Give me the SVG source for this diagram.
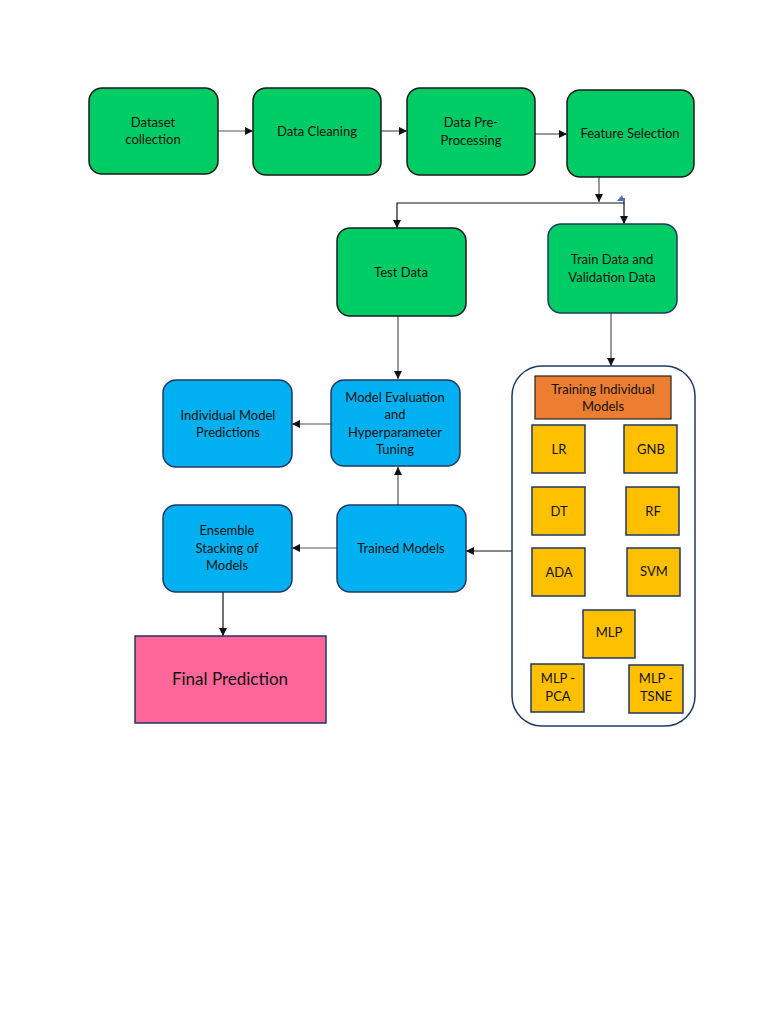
<svg xmlns="http://www.w3.org/2000/svg" width="768" height="1024" viewBox="0 0 768 1024">
<style>
.g{fill:#00CC66;stroke:#1a1a1a;stroke-width:1.5}
.b{fill:#00B0F0;stroke:#1F3864;stroke-width:1.5}
.y{fill:#FFC000;stroke:#1F3864;stroke-width:1.5}
.t{font-family:Lato,"Liberation Sans",sans-serif;font-size:13px;fill:#111;text-anchor:middle}
.c{fill:none;stroke:#555;stroke-width:1.2}
.k{fill:none;stroke:#111;stroke-width:1.2}
</style>
<defs>
<marker id="a" viewBox="0 0 10 10" refX="10" refY="5" markerWidth="8" markerHeight="8" markerUnits="userSpaceOnUse" orient="auto"><path d="M0,0L10,5L0,10z" fill="#111"/></marker>
</defs>
<rect width="768" height="1024" fill="#fff"/>
<g id="connectors">
<line class="c" x1="218" y1="131" x2="253" y2="131" marker-end="url(#a)"/>
<line class="c" x1="381" y1="131" x2="407" y2="131" marker-end="url(#a)"/>
<line class="c" x1="535" y1="134" x2="567" y2="134" marker-end="url(#a)"/>
<line class="c" x1="599" y1="177" x2="599" y2="202" marker-end="url(#a)"/>
<polyline class="k" points="624,198 624,203 397,203 397,228" marker-end="url(#a)"/>
<line class="k" x1="624" y1="203" x2="624" y2="224" marker-end="url(#a)"/>
<path d="M617,201 L622,195 L624,201 z" fill="#4472C4"/>
<line class="c" x1="398" y1="316" x2="398" y2="379" marker-end="url(#a)"/>
<line class="c" x1="611" y1="313" x2="611" y2="366" marker-end="url(#a)"/>
<line class="c" x1="331" y1="424" x2="292" y2="424" marker-end="url(#a)"/>
<line class="c" x1="398" y1="505" x2="398" y2="467" marker-end="url(#a)"/>
<line class="c" x1="337" y1="548" x2="292" y2="548" marker-end="url(#a)"/>
<line class="k" x1="512" y1="551" x2="466" y2="551" marker-end="url(#a)"/>
<line class="k" x1="223" y1="592" x2="223" y2="636" marker-end="url(#a)"/>
</g>
<g id="dataset"><rect class="g" x="89" y="88" width="129" height="86" rx="13"/><text class="t" x="153" y="127">Dataset</text><text class="t" x="153" y="144">collection</text></g>
<g id="cleaning"><rect class="g" x="253" y="88" width="128" height="87" rx="13"/><text class="t" x="317" y="136">Data Cleaning</text></g>
<g id="preprocessing"><rect class="g" x="407" y="88" width="128" height="87" rx="13"/><text class="t" x="471" y="127">Data Pre-</text><text class="t" x="471" y="145">Processing</text></g>
<g id="feature"><rect class="g" x="567" y="90" width="127" height="87" rx="13"/><text class="t" x="630" y="138">Feature Selection</text></g>
<g id="test"><rect class="g" x="337" y="228" width="129" height="88" rx="13"/><text class="t" x="401" y="277">Test Data</text></g>
<g id="train"><rect class="g" x="548" y="224" width="129" height="89" rx="13" style="stroke:#1F3864"/><text class="t" x="612" y="264">Train Data and</text><text class="t" x="612" y="282">Validation Data</text></g>
<g id="indiv"><rect class="b" x="163" y="380" width="129" height="87" rx="13"/><text class="t" x="228" y="420">Individual Model</text><text class="t" x="228" y="437">Predictions</text></g>
<g id="eval"><rect class="b" x="331" y="380" width="129" height="86" rx="13"/><text class="t" x="395" y="402">Model Evaluation</text><text class="t" x="395" y="419">and</text><text class="t" x="395" y="437">Hyperparameter</text><text class="t" x="395" y="454">Tuning</text></g>
<g id="ensemble"><rect class="b" x="163" y="505" width="129" height="87" rx="13"/><text class="t" x="227" y="535">Ensemble</text><text class="t" x="227" y="553">Stacking of</text><text class="t" x="227" y="570">Models</text></g>
<g id="trained"><rect class="b" x="337" y="505" width="129" height="87" rx="13"/><text class="t" x="401" y="553">Trained Models</text></g>
<g id="final"><rect x="135" y="636" width="191" height="87" fill="#FF6699" stroke="#1F3864" stroke-width="1.5"/><text class="t" x="230" y="685" style="font-size:17px">Final Prediction</text></g>
<g id="container"><rect x="512" y="366" width="183" height="360" rx="30" fill="#fff" stroke="#1F3864" stroke-width="1.5"/></g>
<g id="training"><rect x="535" y="376" width="136" height="43" fill="#ED7D31" stroke="#222" stroke-width="1.2"/><text class="t" x="603" y="394">Training Individual</text><text class="t" x="603" y="411">Models</text></g>
<g id="lr"><rect class="y" x="532" y="425" width="53" height="48"/><text class="t" x="559" y="454">LR</text></g>
<g id="gnb"><rect class="y" x="624" y="425" width="53" height="48"/><text class="t" x="651" y="454">GNB</text></g>
<g id="dt"><rect class="y" x="532" y="487" width="53" height="48"/><text class="t" x="559" y="516">DT</text></g>
<g id="rf"><rect class="y" x="626" y="487" width="53" height="48"/><text class="t" x="653" y="516">RF</text></g>
<g id="ada"><rect class="y" x="532" y="548" width="53" height="48"/><text class="t" x="559" y="577">ADA</text></g>
<g id="svm"><rect class="y" x="627" y="548" width="53" height="48"/><text class="t" x="654" y="576">SVM</text></g>
<g id="mlp"><rect class="y" x="583" y="610" width="52" height="48"/><text class="t" x="609" y="637">MLP</text></g>
<g id="mlppca"><rect class="y" x="531" y="664" width="53" height="48"/><text class="t" x="558" y="683">MLP -</text><text class="t" x="558" y="701">PCA</text></g>
<g id="mlptsne"><rect class="y" x="629" y="665" width="54" height="48"/><text class="t" x="656" y="683">MLP -</text><text class="t" x="656" y="701">TSNE</text></g>
</svg>
